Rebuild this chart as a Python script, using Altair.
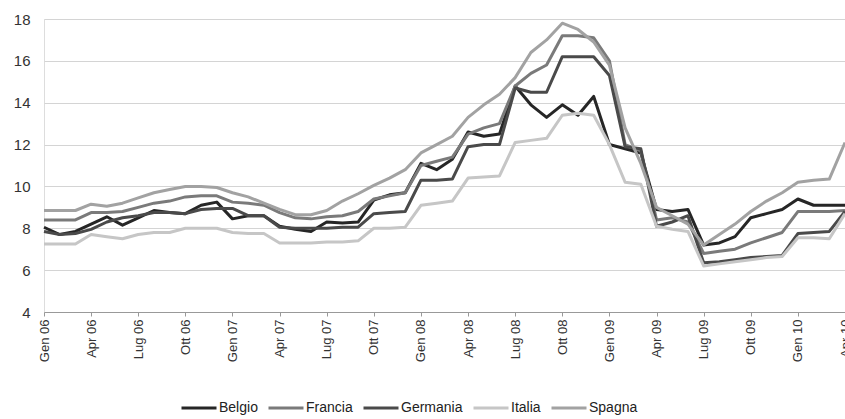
import altair as alt
import pandas as pd

# Monthly axis labels (Italian abbreviations), Jan 2006 .. Apr 2010
years = ["06", "07", "08", "09", "10"]
month_names = ["Gen", "Feb", "Mar", "Apr", "Mag", "Giu",
               "Lug", "Ago", "Set", "Ott", "Nov", "Dic"]
months = [f"{m} {y}" for y in years for m in month_names][:52]
tick_months = months[::3]

countries = ["Belgio", "Francia", "Germania", "Italia", "Spagna"]
colors = ["#262626", "#7a7a7a", "#4a4a4a", "#c6c6c6", "#a2a2a2"]

belgio = [8.05, 7.7, 7.85, 8.2, 8.55, 8.15, 8.5, 8.85, 8.75, 8.7, 9.1, 9.25,
          8.45, 8.6, 8.6, 8.1, 7.95, 7.85, 8.3, 8.25, 8.3, 9.35, 9.6, 9.7,
          11.1, 10.8, 11.3, 12.6, 12.4, 12.5, 14.8, 13.9, 13.3, 13.9, 13.4, 14.3,
          12.0, 11.8, 11.6, 8.9, 8.8, 8.9, 7.2, 7.3, 7.6, 8.5, 8.7, 8.9,
          9.4, 9.1, 9.1, 9.1]

francia = [8.4, 8.4, 8.4, 8.75, 8.75, 8.8, 9.0, 9.2, 9.3, 9.5, 9.55, 9.55,
           9.25, 9.2, 9.1, 8.75, 8.5, 8.45, 8.55, 8.6, 8.8, 9.4, 9.55, 9.7,
           11.0, 11.2, 11.4, 12.5, 12.8, 13.0, 14.8, 15.4, 15.8, 17.2, 17.2, 17.1,
           16.0, 12.0, 11.7, 8.4, 8.5, 8.3, 6.8, 6.9, 7.0, 7.3, 7.55, 7.8,
           8.8, 8.8, 8.8, 8.85]

germania = [7.85, 7.7, 7.75, 7.95, 8.3, 8.5, 8.6, 8.75, 8.75, 8.7, 8.9, 8.95,
            8.95, 8.6, 8.6, 8.05, 8.0, 8.0, 8.0, 8.05, 8.05, 8.7, 8.75, 8.8,
            10.3, 10.3, 10.35, 11.9, 12.0, 12.0, 14.7, 14.5, 14.5, 16.2, 16.2, 16.2,
            15.3, 11.9, 11.8, 8.1, 8.3, 8.6, 6.35, 6.4, 6.5, 6.6, 6.65, 6.7,
            7.75, 7.8, 7.85, 8.8]

italia = [7.25, 7.25, 7.25, 7.7, 7.6, 7.5, 7.7, 7.8, 7.8, 8.0, 8.0, 8.0,
          7.8, 7.75, 7.75, 7.3, 7.3, 7.3, 7.35, 7.35, 7.4, 8.0, 8.0, 8.05,
          9.1, 9.2, 9.3, 10.4, 10.45, 10.5, 12.1, 12.2, 12.3, 13.4, 13.5, 13.4,
          12.0, 10.2, 10.1, 8.1, 7.95, 7.85, 6.2, 6.3, 6.4, 6.5, 6.6, 6.65,
          7.55, 7.55, 7.5, 8.7]

spagna = [8.85, 8.85, 8.85, 9.15, 9.05, 9.2, 9.45, 9.7, 9.85, 10.0, 10.0, 9.95,
          9.7, 9.5, 9.2, 8.9, 8.65, 8.65, 8.85, 9.3, 9.65, 10.05, 10.4, 10.8,
          11.6, 12.0, 12.4, 13.3, 13.9, 14.4, 15.2, 16.4, 17.0, 17.8, 17.5, 16.9,
          15.8, 12.8, 11.1, 9.0, 8.6, 8.2, 7.2, 7.7, 8.2, 8.8, 9.3, 9.7,
          10.2, 10.3, 10.35, 12.1]

series = [belgio, francia, germania, italia, spagna]

rows = []
for name, values in zip(countries, series):
    for order, (month, value) in enumerate(zip(months, values)):
        rows.append({"mese": month, "ordine": order, "paese": name, "valore": value})
df = pd.DataFrame(rows)

font = "Liberation Sans, Arial, sans-serif"

chart = alt.Chart(df).mark_line(strokeWidth=3, strokeJoin="round").encode(
    x=alt.X("mese:O", sort=months,
            scale=alt.Scale(type="point", padding=0),
            axis=alt.Axis(values=tick_months, labelAngle=-90, title=None,
                          labelFontSize=13, labelFont=font, labelColor="#333333",
                          tickSize=4, tickColor="#999999", domainColor="#999999",
                          labelPadding=3, grid=False)),
    y=alt.Y("valore:Q",
            scale=alt.Scale(domain=[4, 18], nice=False, zero=False),
            axis=alt.Axis(values=[4, 6, 8, 10, 12, 14, 16, 18], title=None,
                          labelFontSize=15, labelFont=font, labelColor="#333333",
                          domain=False, ticks=False, labelPadding=14,
                          grid=True, gridColor="#d4d4d4", gridWidth=1)),
    color=alt.Color("paese:N", sort=countries,
                    scale=alt.Scale(domain=countries, range=colors),
                    legend=alt.Legend(orient="none", legendX=136, legendY=370,
                                      direction="horizontal", title=None,
                                      symbolType="stroke", symbolStrokeWidth=3,
                                      symbolSize=1225, labelFontSize=14,
                                      labelFont=font, labelColor="#222222",
                                      labelOffset=1, columnPadding=4)),
    order=alt.Order("ordine:Q"),
).properties(
    width=801,
    height=293,
    autosize=alt.AutoSizeParams(type="none"),
    padding={"left": 44, "top": 19, "right": 0, "bottom": 107},
).configure_view(stroke=None).configure(background="white")

chart.save("out.html", embed_options={"renderer": "svg", "actions": False})
